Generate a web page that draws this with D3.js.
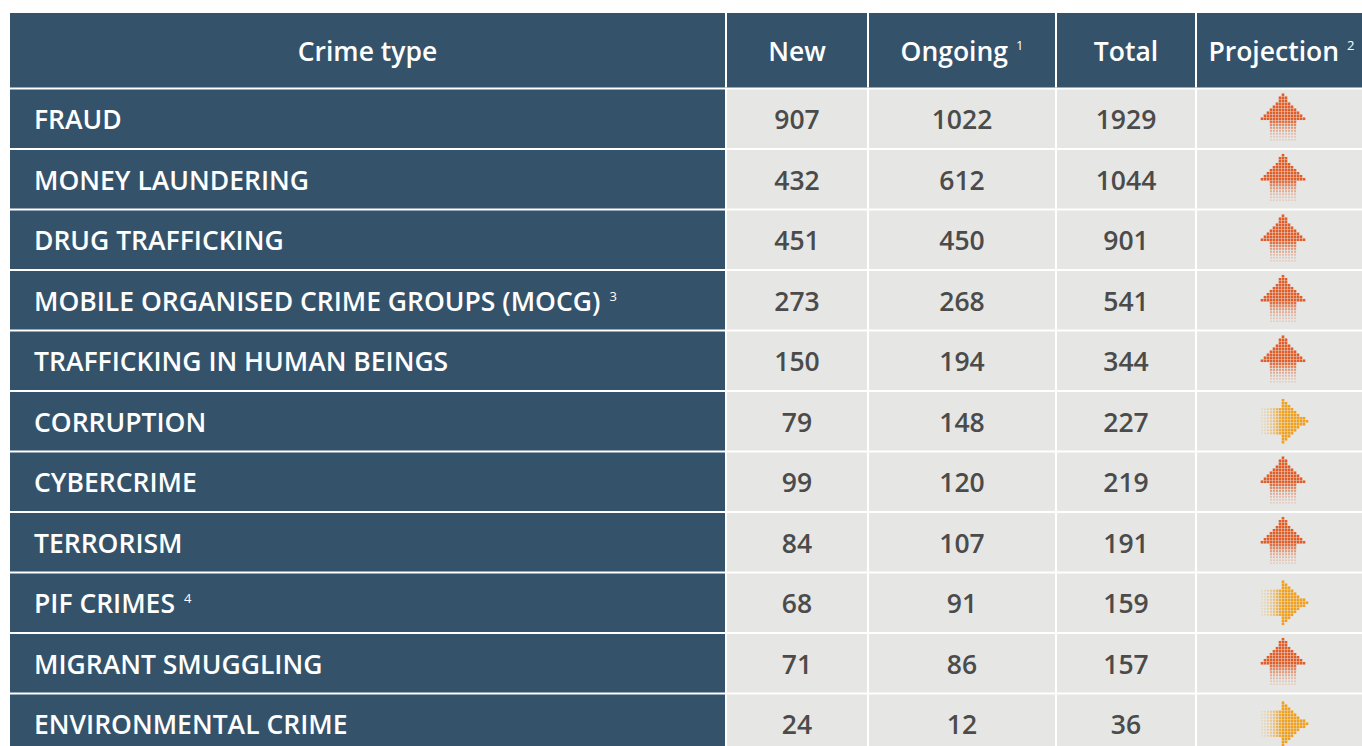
<!DOCTYPE html>
<html>
<head>
<meta charset="utf-8">
<script src="https://cdn.jsdelivr.net/npm/d3@7"></script>
<style>
  html, body { margin: 0; padding: 0; background: #ffffff; }
  svg { display: block; font-family: "Open Sans", "Noto Sans", sans-serif; }
</style>
</head>
<body>
<div id="chart"></div>
<script>
// Table data
const crimeTypes = [
    "FRAUD", "MONEY LAUNDERING", "DRUG TRAFFICKING",
    "MOBILE ORGANISED CRIME GROUPS (MOCG)", "TRAFFICKING IN HUMAN BEINGS",
    "CORRUPTION", "CYBERCRIME", "TERRORISM", "PIF CRIMES",
    "MIGRANT SMUGGLING", "ENVIRONMENTAL CRIME"
];
const crimeNotes = ["", "", "", "3", "", "", "", "", "4", "", ""];
const newCases = [907, 432, 451, 273, 150, 79, 99, 84, 68, 71, 24];
const ongoingCases = [1022, 612, 450, 268, 194, 148, 120, 107, 91, 86, 12];
const totalCases = [1929, 1044, 901, 541, 344, 227, 219, 191, 159, 157, 36];
const projections = ["up", "up", "up", "up", "up", "right", "up", "up", "right", "up", "right"];

const headers = ["Crime type", "New", "Ongoing", "Total", "Projection"];
const headerNotes = ["", "", "1", "", "2"];

// Layout
const width = 1362;
const height = 746;
const COLS = [[10, 725], [727, 867], [869, 1055], [1057, 1195], [1197, 1366]];
const headerTop = 13, headerBottom = 87.5;
const rowStep = 60.5, rowGap = 2;
const fontSize = 26.5;

const STYLES = {
    dark: "#34536b",
    light: "#e6e6e4",
    numText: "#4b4b4b",
    up: "#e05d28",
    right: "#f0a01c"
};

const svg = d3.select("#chart").append("svg")
    .attr("width", width)
    .attr("height", height);

const y = d3.scaleBand()
    .domain(crimeTypes)
    .range([headerBottom + rowGap, headerBottom + rowGap + rowStep * crimeTypes.length - rowGap])
    .paddingInner(rowGap / rowStep)
    .paddingOuter(0);

// Header
svg.append("rect")
    .attr("x", COLS[0][0]).attr("y", headerTop)
    .attr("width", COLS[4][1] - COLS[0][0]).attr("height", headerBottom - headerTop)
    .attr("fill", STYLES.dark);

COLS.slice(1).forEach(c => {
    svg.append("line")
        .attr("x1", c[0] - 1).attr("x2", c[0] - 1)
        .attr("y1", headerTop).attr("y2", headerBottom)
        .attr("stroke", "#ffffff").attr("stroke-width", 2);
});

headers.forEach((h, i) => {
    const cx = (COLS[i][0] + COLS[i][1]) / 2;
    const t = svg.append("text")
        .attr("x", cx)
        .attr("y", (headerTop + headerBottom) / 2 + 11)
        .attr("text-anchor", "middle")
        .attr("fill", "#ffffff")
        .attr("font-size", fontSize)
        .attr("font-weight", 600)
        .text(h);
    if (headerNotes[i]) {
        t.append("tspan")
            .attr("font-size", 13)
            .attr("font-weight", 400)
            .attr("dx", 8)
            .attr("dy", -11)
            .text(headerNotes[i]);
    }
});

// Rows
const rows = svg.selectAll("g.row")
    .data(crimeTypes.map((c, i) => ({
        crime: c, note: crimeNotes[i],
        values: [newCases[i], ongoingCases[i], totalCases[i]],
        proj: projections[i]
    })))
    .enter()
    .append("g")
    .attr("class", "row")
    .attr("transform", d => `translate(0,${y(d.crime)})`);

rows.append("rect")
    .attr("x", COLS[0][0]).attr("width", COLS[0][1] - COLS[0][0])
    .attr("height", y.bandwidth())
    .attr("fill", STYLES.dark);

const labels = rows.append("text")
    .attr("x", 34)
    .attr("y", y.bandwidth() / 2 + 10.5)
    .attr("fill", "#ffffff")
    .attr("font-size", fontSize)
    .attr("font-weight", 600)
    .text(d => d.crime);

labels.filter(d => d.note)
    .append("tspan")
    .attr("font-size", 13)
    .attr("font-weight", 400)
    .attr("dx", 9)
    .attr("dy", -10)
    .text(d => d.note);

COLS.slice(1).forEach((c, ci) => {
    rows.append("rect")
        .attr("x", c[0]).attr("width", c[1] - c[0])
        .attr("height", y.bandwidth())
        .attr("fill", STYLES.light);
    if (ci < 3) {
        rows.append("text")
            .attr("x", (c[0] + c[1]) / 2)
            .attr("y", y.bandwidth() / 2 + 10.5)
            .attr("text-anchor", "middle")
            .attr("fill", STYLES.numText)
            .attr("font-size", fontSize)
            .attr("font-weight", 600)
            .text(d => d.values[ci]);
    }
});

// Halftone arrows
const cell = 3;
function arrowCells(dir) {
    const cells = [];
    for (let gx = -27; gx <= 27; gx += cell) {
        for (let gy = -27; gy <= 27; gy += cell) {
            // "up" frame: u across the arrow, v along it (negative = tip)
            let u, v;
            if (dir === "up") { u = gx; v = gy; } else { u = gy; v = -gx; }
            let inside = false, fade = 1;
            if (v >= -24.5 && v < 1) {
                const half = 23.5 * (v + 24.5) / 25.5;
                inside = Math.abs(u) <= half;
            } else if (v >= 1 && v <= 23) {
                inside = Math.abs(u) <= 13.8;
                fade = 1 - (v - 1) / 24;
            }
            if (inside) cells.push({ x: gx, y: gy, fade: fade });
        }
    }
    return cells;
}

const arrowX = 1283;
rows.each(function(d) {
    const g = d3.select(this).append("g")
        .attr("transform", `translate(${arrowX},${y.bandwidth() / 2})`);
    const color = d.proj === "up" ? STYLES.up : STYLES.right;
    g.selectAll("rect")
        .data(arrowCells(d.proj))
        .enter()
        .append("rect")
        .attr("x", c => c.x - (1 + c.fade) / 2 * 2.6 / 2)
        .attr("y", c => c.y - (1 + c.fade) / 2 * 2.6 / 2)
        .attr("width", c => (1 + c.fade) / 2 * 2.6)
        .attr("height", c => (1 + c.fade) / 2 * 2.6)
        .attr("fill", color)
        .attr("opacity", c => 0.2 + 0.8 * c.fade * c.fade);
});
</script>
</body>
</html>
